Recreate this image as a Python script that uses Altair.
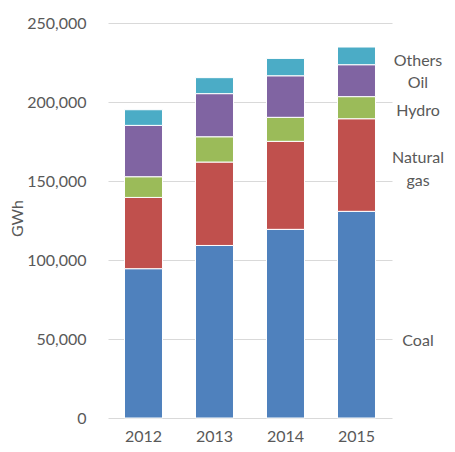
import altair as alt
import pandas as pd

years = ["2012", "2013", "2014", "2015"]
sources = ["Coal", "Natural gas", "Hydro", "Oil", "Others"]
coal = [94500, 109200, 119400, 130800]
natural_gas = [45100, 52800, 55700, 58600]
hydro = [13100, 16000, 15200, 14000]
oil = [32500, 27300, 26300, 20200]
others = [9900, 10100, 11000, 11200]
colors = ["#4F81BD", "#C0504D", "#9BBB59", "#8064A2", "#4BACC6"]

label_text = ["Others", "Oil", "Hydro", "Natural", "gas", "Coal"]
label_y = [225700, 212000, 194500, 164700, 149700, 48500]

series = [coal, natural_gas, hydro, oil, others]
rows = []
for si, (name, vals) in enumerate(zip(sources, series)):
    for y, v in zip(years, vals):
        rows.append({"Year": y, "Source": name, "GWh": v, "order": si})
df = pd.DataFrame(rows)
labels = pd.DataFrame({"text": label_text, "y": label_y})

FONT = "Lato"
GREY = "#595959"

yscale = alt.Scale(domain=[0, 250000], nice=False)

bars = alt.Chart(df).mark_bar(stroke="white", strokeWidth=1).encode(
    x=alt.X("Year:N", sort=years,
            scale=alt.Scale(paddingInner=0.465, paddingOuter=0.2325),
            axis=alt.Axis(title=None, labelAngle=0, labelFont=FONT, labelFontSize=16,
                          labelColor=GREY, labelPadding=10, ticks=False, domain=False)),
    y=alt.Y("GWh:Q", stack="zero", scale=yscale,
            axis=alt.Axis(title="GWh", titleFont=FONT, titleFontSize=16, titleFontWeight="normal",
                          titleColor=GREY, titleX=-91, titleY=195, titleAngle=270,
                          titleAlign="center", titleBaseline="middle",
                          values=[0, 50000, 100000, 150000, 200000, 250000],
                          format=",d", labelFont=FONT, labelFontSize=16, labelColor=GREY,
                          labelPadding=22, ticks=False, domain=False,
                          gridColor="#D9D9D9", gridWidth=1)),
    color=alt.Color("Source:N", sort=sources,
                    scale=alt.Scale(domain=sources, range=colors), legend=None),
    order=alt.Order("order:Q", sort="ascending"),
)

text = alt.Chart(labels).mark_text(font=FONT, fontSize=16, color=GREY, align="center",
                                   baseline="middle").encode(
    x=alt.value(310),
    y=alt.Y("y:Q", scale=yscale),
    text="text:N",
)

chart = alt.layer(bars, text).properties(
    width=284, height=395,
    autosize=alt.AutoSizeParams(type="none"),
    padding={"left": 100, "top": 15, "right": 55, "bottom": 26},
).configure(background="white").configure_view(stroke=None)

chart.save("out.html", embed_options={"renderer": "svg", "actions": False})
